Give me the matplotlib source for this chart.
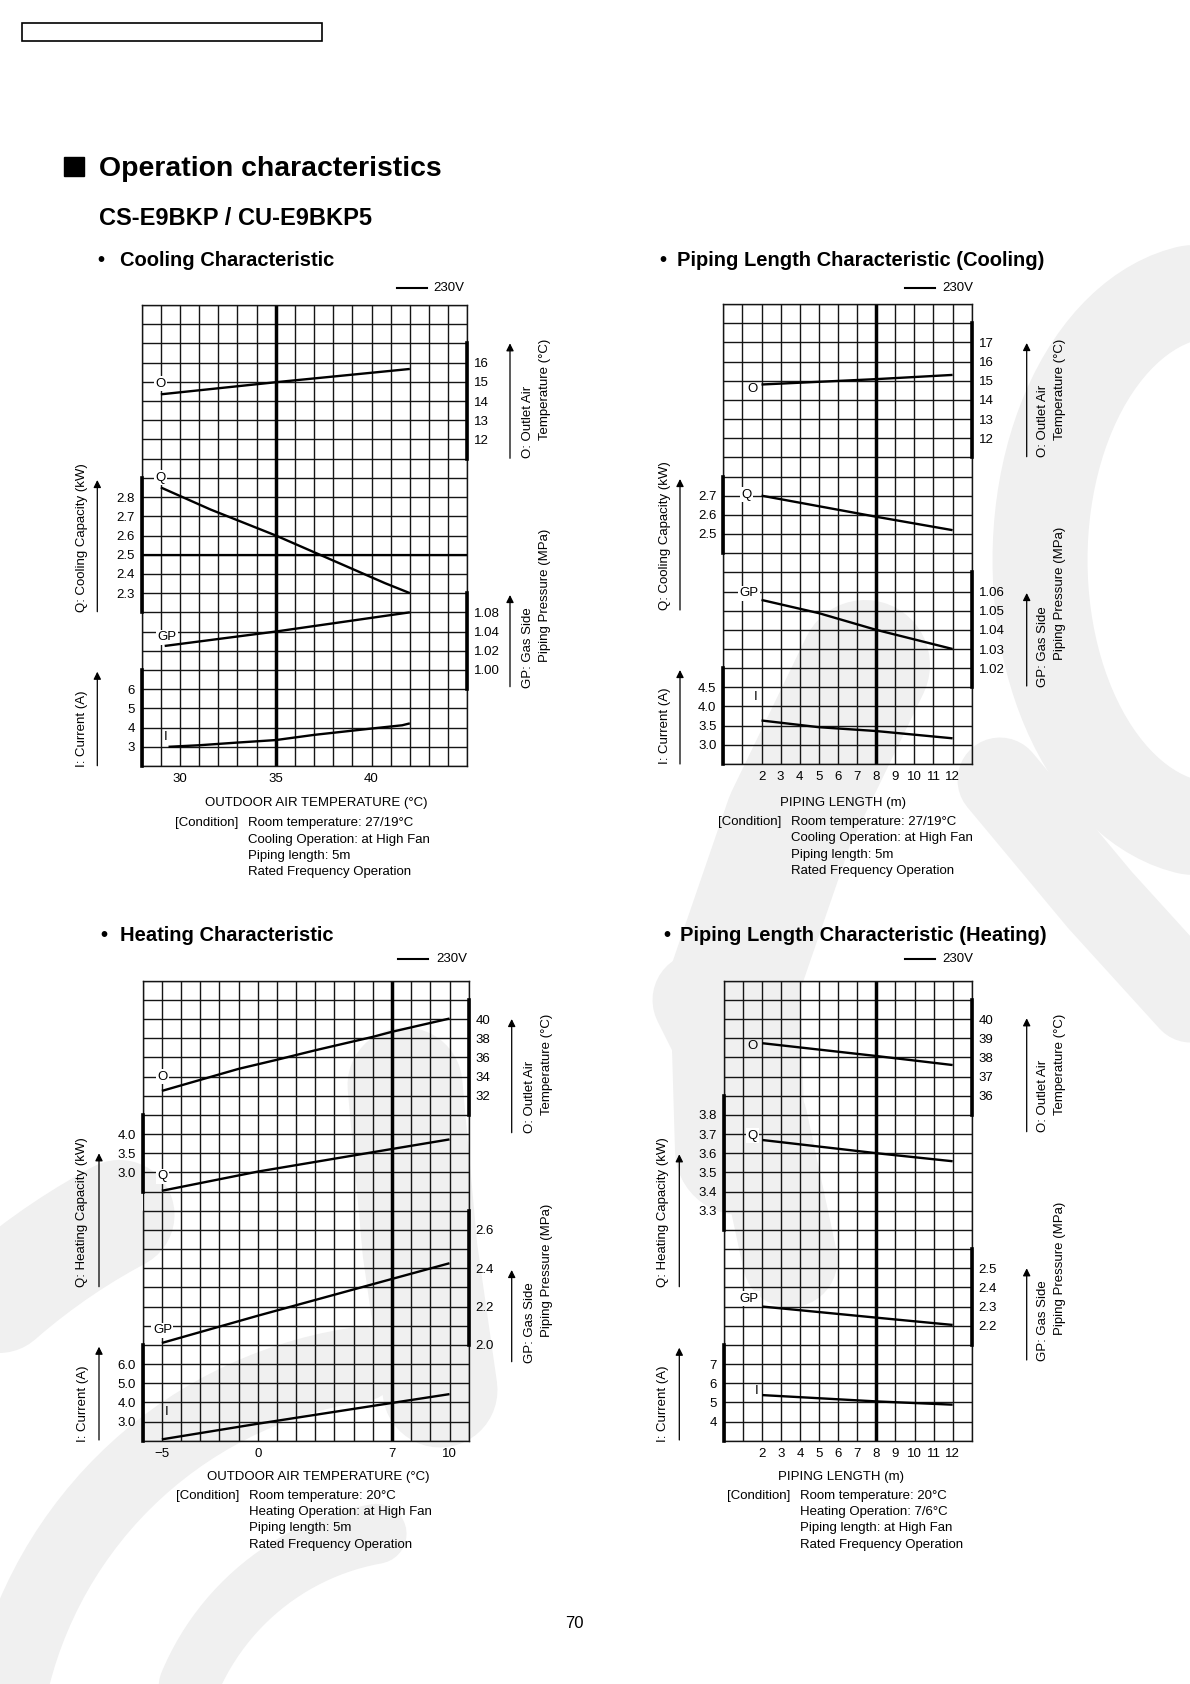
import numpy as np
import matplotlib
matplotlib.use('Agg')
import matplotlib.pyplot as plt
from matplotlib.patches import Rectangle
from matplotlib.ticker import NullLocator

W, H, DPI = 1190, 1684, 100
NROWS = 24
plt.rcParams['font.family'] = ['Liberation Sans', 'DejaVu Sans']
plt.rcParams['font.size'] = 9.5

# ---------------- data ----------------
# Cooling characteristic vs outdoor air temperature (deg C)
cool_o_t = [29, 35, 42]
cool_o = [14.35, 14.98, 15.67]
cool_q_t = [29, 31.6, 35, 40.7, 42]
cool_q = [2.85, 2.735, 2.60, 2.352, 2.30]
cool_gp_t = [29.2, 35, 42]
cool_gp = [1.025, 1.04, 1.08]
cool_i_t = [29.4, 31, 33, 35, 37, 40, 41.6, 42]
cool_i = [3.0, 3.08, 3.22, 3.35, 3.62, 3.95, 4.12, 4.22]

# Piping length characteristic (cooling), piping length in m
pipe_len = [2, 8, 12]
pc_o = [14.8, 15.08, 15.3]
pc_q = [2.70, 2.59, 2.52]
pc_len4 = [2, 5, 8, 12]
pc_gp = [1.0556, 1.0487, 1.04, 1.03]
pc_i = [3.635, 3.46, 3.36, 3.17]

# Heating characteristic vs outdoor air temperature (deg C)
heat_o_t = [-5, -1, 1, 3, 6, 7, 10]
heat_o = [32.5, 34.8, 35.75, 36.74, 38.14, 38.67, 40.05]
heat_t = [-5, 0, 7, 10]
heat_q = [2.52, 3.02, 3.61, 3.86]
heat_gp = [2.01, 2.152, 2.344, 2.426]
heat_i = [2.07, 2.885, 3.97, 4.43]

# Piping length characteristic (heating)
ph_o = [38.74, 38.07, 37.6]
ph_q = [3.669, 3.60, 3.558]
ph_gp = [2.30, 2.242, 2.204]
ph_i = [5.38, 5.05, 4.88]

# axis ticks: values, labels, grid row of each tick (row 0 = top of grid)
cool_scales = {
    'O': ('right', [12, 13, 14, 15, 16], ['12', '13', '14', '15', '16'], [7, 6, 5, 4, 3], (2, 8)),
    'Q': ('left', [2.3, 2.4, 2.5, 2.6, 2.7, 2.8], ['2.3', '2.4', '2.5', '2.6', '2.7', '2.8'], [15, 14, 13, 12, 11, 10], (9, 16)),
    'GP': ('right', [1.00, 1.02, 1.04, 1.08], ['1.00', '1.02', '1.04', '1.08'], [19, 18, 17, 16], (15, 20)),
    'I': ('left', [3, 4, 5, 6], ['3', '4', '5', '6'], [23, 22, 21, 20], (19, 24)),
}
pc_scales = {
    'O': ('right', [12, 13, 14, 15, 16, 17], ['12', '13', '14', '15', '16', '17'], [7, 6, 5, 4, 3, 2], (1, 8)),
    'Q': ('left', [2.5, 2.6, 2.7], ['2.5', '2.6', '2.7'], [12, 11, 10], (9, 13)),
    'GP': ('right', [1.02, 1.03, 1.04, 1.05, 1.06], ['1.02', '1.03', '1.04', '1.05', '1.06'], [19, 18, 17, 16, 15], (14, 20)),
    'I': ('left', [3.0, 3.5, 4.0, 4.5], ['3.0', '3.5', '4.0', '4.5'], [23, 22, 21, 20], (19, 24)),
}
heat_scales = {
    'O': ('right', [32, 34, 36, 38, 40], ['32', '34', '36', '38', '40'], [6, 5, 4, 3, 2], (1, 7)),
    'Q': ('left', [3.0, 3.5, 4.0], ['3.0', '3.5', '4.0'], [10, 9, 8], (7, 11)),
    'GP': ('right', [2.0, 2.2, 2.4, 2.6], ['2.0', '2.2', '2.4', '2.6'], [19, 17, 15, 13], (12, 19)),
    'I': ('left', [3.0, 4.0, 5.0, 6.0], ['3.0', '4.0', '5.0', '6.0'], [23, 22, 21, 20], (19, 24)),
}
ph_scales = {
    'O': ('right', [36, 37, 38, 39, 40], ['36', '37', '38', '39', '40'], [6, 5, 4, 3, 2], (1, 7)),
    'Q': ('left', [3.3, 3.4, 3.5, 3.6, 3.7, 3.8], ['3.3', '3.4', '3.5', '3.6', '3.7', '3.8'], [12, 11, 10, 9, 8, 7], (6, 13)),
    'GP': ('right', [2.2, 2.3, 2.4, 2.5], ['2.2', '2.3', '2.4', '2.5'], [18, 17, 16, 15], (14, 19)),
    'I': ('left', [4, 5, 6, 7], ['4', '5', '6', '7'], [23, 22, 21, 20], (19, 24)),
}


def make_scale(vals, rows):
    # value -> height in grid rows (0 at bottom), piecewise linear, extrapolated
    v = np.asarray(vals, float)
    h = NROWS - np.asarray(rows, float)
    o = np.argsort(v)
    v, h = v[o], h[o]
    s0 = (h[1] - h[0]) / (v[1] - v[0])
    s1 = (h[-1] - h[-2]) / (v[-1] - v[-2])

    def fwd(x):
        x = np.asarray(x, float)
        y = np.interp(x, v, h)
        y = np.where(x < v[0], h[0] + (x - v[0]) * s0, y)
        return np.where(x > v[-1], h[-1] + (x - v[-1]) * s1, y)

    def inv(y):
        y = np.asarray(y, float)
        x = np.interp(y, h, v)
        x = np.where(y < h[0], v[0] + (y - h[0]) / s0, x)
        return np.where(y > h[-1], v[-1] + (y - h[-1]) / s1, x)

    return fwd, inv


def panel(fig, box, xlim, xticks, xlabels, ref_x, scales, curves, tags, left_gap=None):
    l, t, r, b = box
    ax = fig.add_axes([l / W, 1 - b / H, (r - l) / W, (b - t) / H])
    ax.set_facecolor('none')
    ax.set_xlim(*xlim)
    ax.set_ylim(0, NROWS)
    ax.set_xticks(np.arange(xlim[0], xlim[1] + 1), minor=True)
    ax.set_yticks(np.arange(0, NROWS + 1), minor=True)
    ax.set_xticks(xticks, xlabels)
    ax.set_yticks([])
    ax.grid(which='both', color='#151515', lw=1.0)
    ax.tick_params(which='both', length=0)
    ax.tick_params(axis='x', pad=5, labelsize=9.5)
    for s in ax.spines.values():
        s.set_linewidth(1.0)
        s.set_color('#151515')
    if left_gap is not None:
        # the left border is broken between two grid rows
        g0, g1 = left_gap
        ax.spines['left'].set_bounds(0, NROWS - g1)
        ax.plot([xlim[0], xlim[0]], [NROWS - g0, NROWS], color='#151515', lw=1.0, clip_on=False)
    ax.axvline(ref_x, color='k', lw=2.5)

    twins = {}
    for key, (side, vals, labs, rows, bar) in scales.items():
        fwd, inv = make_scale(vals, rows)
        tw = ax.twinx()
        tw.set_yscale('function', functions=(fwd, inv))
        tw.set_ylim(float(inv(0.0)), float(inv(NROWS)))
        for s in tw.spines.values():
            s.set_visible(False)
        sp = tw.spines[side]
        sp.set_visible(True)
        sp.set_linewidth(2.6)
        sp.set_bounds(float(inv(NROWS - bar[1])), float(inv(NROWS - bar[0])))
        tw.yaxis.set_ticks_position(side)
        tw.set_yticks(vals, labs)
        tw.yaxis.set_minor_locator(NullLocator())
        tw.tick_params(axis='y', length=0, pad=5, labelsize=9.5)
        twins[key] = tw

    for key, xs, ys in curves:
        twins[key].plot(xs, ys, color='k', lw=1.7, solid_capstyle='butt')

    for s, x, row, boxed in tags:
        kw = dict(bbox=dict(fc='white', ec='none', pad=1.0)) if boxed else {}
        ax.text(x, NROWS - row, s, ha='center', va='center', fontsize=9.5, **kw)
    return ax, twins


fig = plt.figure(figsize=(W / DPI, H / DPI), dpi=DPI)
bg = fig.add_axes([0, 0, 1, 1], zorder=-1)
bg.set_xlim(0, W)
bg.set_ylim(H, 0)
bg.axis('off')

# faint watermark strokes in the background (widths in px -> pt)
wm = dict(color='#f0f0f0', solid_capstyle='round', zorder=0)
ang = np.linspace(np.pi / 2, 3 * np.pi / 2, 60)
bg.plot(1215 + 175 * np.cos(ang), 560 - 270 * np.sin(ang), lw=95 * 0.72, **wm)
bg.plot([865, 790, 735, 740], [665, 820, 980, 1150], lw=130 * 0.72, **wm)
bg.plot([700, 760, 790], [1000, 1120, 1260], lw=95 * 0.72, **wm)
bg.plot([1000, 1100, 1200], [780, 900, 1010], lw=85 * 0.72, **wm)
bg.plot([405, 420, 440], [1085, 1250, 1390], lw=115 * 0.72, **wm)
# concentric arcs in the lower left corner
for rad, a0, a1, wpx in [(640, 118, 185, 110), (420, 98, 185, 75), (250, 100, 185, 60)]:
    a = np.radians(np.linspace(a0, a1, 40))
    bg.plot(420 + rad * np.cos(a), 1780 - rad * np.sin(a), lw=wpx * 0.72, **wm)

# page header
bg.add_patch(Rectangle((21.5, 23), 300.5, 17.5, fill=False, ec='k', lw=1.2, zorder=2))
bg.add_patch(Rectangle((64, 157), 20, 19, color='k', zorder=2))
bg.text(99, 176, 'Operation characteristics', fontsize=20.4, fontweight='bold', va='baseline')
bg.text(99, 225, 'CS-E9BKP / CU-E9BKP5', fontsize=17, fontweight='bold', va='baseline')
for bx, tx, by, title in [(101, 120, 266.5, 'Cooling Characteristic'),
                          (663, 677, 266.5, 'Piping Length Characteristic (Cooling)'),
                          (104, 120, 941, 'Heating Characteristic'),
                          (667, 680, 941, 'Piping Length Characteristic (Heating)')]:
    bg.text(bx, by, '\u2022', fontsize=14.5, fontweight='bold', ha='center', va='baseline')
    bg.text(tx, by, title, fontsize=14.5, fontweight='bold', va='baseline')
bg.text(574.6, 1623, '70', fontsize=12, ha='center', va='center')


def page_labels(leg, left, right, xlabel, cond):
    lx0, ly, ltx = leg
    bg.plot([lx0, lx0 + 30], [ly, ly], color='k', lw=1.5)
    bg.text(ltx, ly, '230V', fontsize=9.5, va='center')
    for txt, x, yb, ax_x, a0, a1 in left:
        bg.text(x, yb, txt, rotation=90, ha='center', va='bottom', fontsize=9.5)
        bg.annotate('', xy=(ax_x, a1), xytext=(ax_x, a0),
                    arrowprops=dict(arrowstyle='-|>', color='k', lw=0.9, mutation_scale=11,
                                    shrinkA=0, shrinkB=0))
    for (t1, t2), x, yb1, yb2, ax_x, a0, a1 in right:
        bg.text(x, yb1, t1, rotation=90, ha='center', va='bottom', fontsize=9.5)
        bg.text(x + 17, yb2, t2, rotation=90, ha='center', va='bottom', fontsize=9.5)
        bg.annotate('', xy=(ax_x, a1), xytext=(ax_x, a0),
                    arrowprops=dict(arrowstyle='-|>', color='k', lw=0.9, mutation_scale=11,
                                    shrinkA=0, shrinkB=0))
    txt, cx, cy = xlabel
    bg.text(cx, cy, txt, fontsize=9.5, ha='center', va='center')
    c0, c1, cy0, lines = cond
    bg.text(c0, cy0, '[Condition]', fontsize=9.5, va='center')
    for k, line in enumerate(lines):
        bg.text(c1, cy0 + 16.2 * k, line, fontsize=9.5, va='center')


# ---------------- cooling characteristic ----------------
ax1, tw1 = panel(fig, (141.7, 305, 467.3, 766), (28, 45), [30, 35, 40], ['30', '35', '40'], 35, cool_scales,
                 [('O', cool_o_t, cool_o), ('Q', cool_q_t, cool_q), ('GP', cool_gp_t, cool_gp), ('I', cool_i_t, cool_i)],
                 [('O', 29, 4.1, True), ('Q', 29, 9.0, True), ('GP', 29.3, 17.3, True), ('I', 29.25, 22.5, False)])
tw1['Q'].axhline(2.5, color='k', lw=1.6)
page_labels((396.7, 288.3, 433),
            [('Q: Cooling Capacity (kW)', 81.7, 611.7, 97.3, 611.7, 480),
             ('I: Current (A)', 81.7, 766.7, 97.3, 765.7, 671.7)],
            [(('O: Outlet Air', 'Temperature (\u00b0C)'), 528.3, 458.3, 440, 510, 458.3, 343.3),
             (('GP: Gas Side', 'Piping Pressure (MPa)'), 528.3, 688.3, 661.7, 510, 686.7, 595)],
            ('OUTDOOR AIR TEMPERATURE (\u00b0C)', 316.7, 803.3),
            (175, 247.7, 823.3, ['Room temperature: 27/19\u00b0C', 'Cooling Operation: at High Fan',
                                 'Piping length: 5m', 'Rated Frequency Operation']))

# ---------------- piping length characteristic (cooling) ----------------
panel(fig, (723.3, 304, 971.7, 764), (0, 13), list(range(2, 13)), [str(v) for v in range(2, 13)], 8, pc_scales,
      [('O', pipe_len, pc_o), ('Q', pipe_len, pc_q), ('GP', pc_len4, pc_gp), ('I', pc_len4, pc_i)],
      [('O', 1.54, 4.43, False), ('Q', 1.22, 9.96, True), ('GP', 1.34, 15.1, True), ('I', 1.69, 20.5, False)])
page_labels((905, 287.7, 942.3),
            [('Q: Cooling Capacity (kW)', 665, 610, 680, 610, 479),
             ('I: Current (A)', 665, 764, 680, 764, 670)],
            [(('O: Outlet Air', 'Temperature (\u00b0C)'), 1043.3, 456.7, 440, 1026.7, 456.7, 343),
             (('GP: Gas Side', 'Piping Pressure (MPa)'), 1043.3, 686.7, 660, 1026.7, 686, 593)],
            ('PIPING LENGTH (m)', 842.5, 802.7),
            (718.3, 791, 822.3, ['Room temperature: 27/19\u00b0C', 'Cooling Operation: at High Fan',
                                 'Piping length: 5m', 'Rated Frequency Operation']))

# ---------------- heating characteristic ----------------
panel(fig, (142.7, 980.7, 468.7, 1440.7), (-6, 11), [-5, 0, 7, 10], ['\u22125', '0', '7', '10'], 7, heat_scales,
      [('O', heat_o_t, heat_o), ('Q', heat_t, heat_q), ('GP', heat_t, heat_gp), ('I', heat_t, heat_i)],
      [('O', -4.97, 5.0, True), ('Q', -4.97, 10.2, True), ('GP', -4.97, 18.25, True), ('I', -4.75, 22.5, False)],
      left_gap=(11, 12))
page_labels((398.3, 959.3, 436),
            [('Q: Heating Capacity (kW)', 81.7, 1286.7, 99, 1286.7, 1153.3),
             ('I: Current (A)', 82.7, 1441.7, 99, 1440, 1346.7)],
            [(('O: Outlet Air', 'Temperature (\u00b0C)'), 530, 1132.7, 1115, 511.7, 1132.7, 1019),
             (('GP: Gas Side', 'Piping Pressure (MPa)'), 530, 1363.3, 1336.7, 511.7, 1361.7, 1270)],
            ('OUTDOOR AIR TEMPERATURE (\u00b0C)', 318.3, 1476.7),
            (176, 249, 1496, ['Room temperature: 20\u00b0C', 'Heating Operation: at High Fan',
                              'Piping length: 5m', 'Rated Frequency Operation']))

# ---------------- piping length characteristic (heating) ----------------
panel(fig, (724, 980.7, 971.7, 1440.7), (0, 13), list(range(2, 13)), [str(v) for v in range(2, 13)], 8, ph_scales,
      [('O', pipe_len, ph_o), ('Q', pipe_len, ph_q), ('GP', pipe_len, ph_gp), ('I', pipe_len, ph_i)],
      [('O', 1.5, 3.4, False), ('Q', 1.5, 8.1, True), ('GP', 1.31, 16.6, True), ('I', 1.7, 21.4, False)])
page_labels((905, 959.3, 942),
            [('Q: Heating Capacity (kW)', 663.3, 1286.7, 679.3, 1286.7, 1154.3),
             ('I: Current (A)', 663.3, 1441.7, 679.3, 1440, 1347.7)],
            [(('O: Outlet Air', 'Temperature (\u00b0C)'), 1043.3, 1131.7, 1115, 1026.7, 1131.7, 1018.3),
             (('GP: Gas Side', 'Piping Pressure (MPa)'), 1043.3, 1360.7, 1335, 1026.7, 1360, 1268.3)],
            ('PIPING LENGTH (m)', 841.5, 1476.7),
            (727.3, 800, 1496, ['Room temperature: 20\u00b0C', 'Heating Operation: 7/6\u00b0C',
                                'Piping length: at High Fan', 'Rated Frequency Operation']))

fig.savefig('out.png', dpi=DPI)
